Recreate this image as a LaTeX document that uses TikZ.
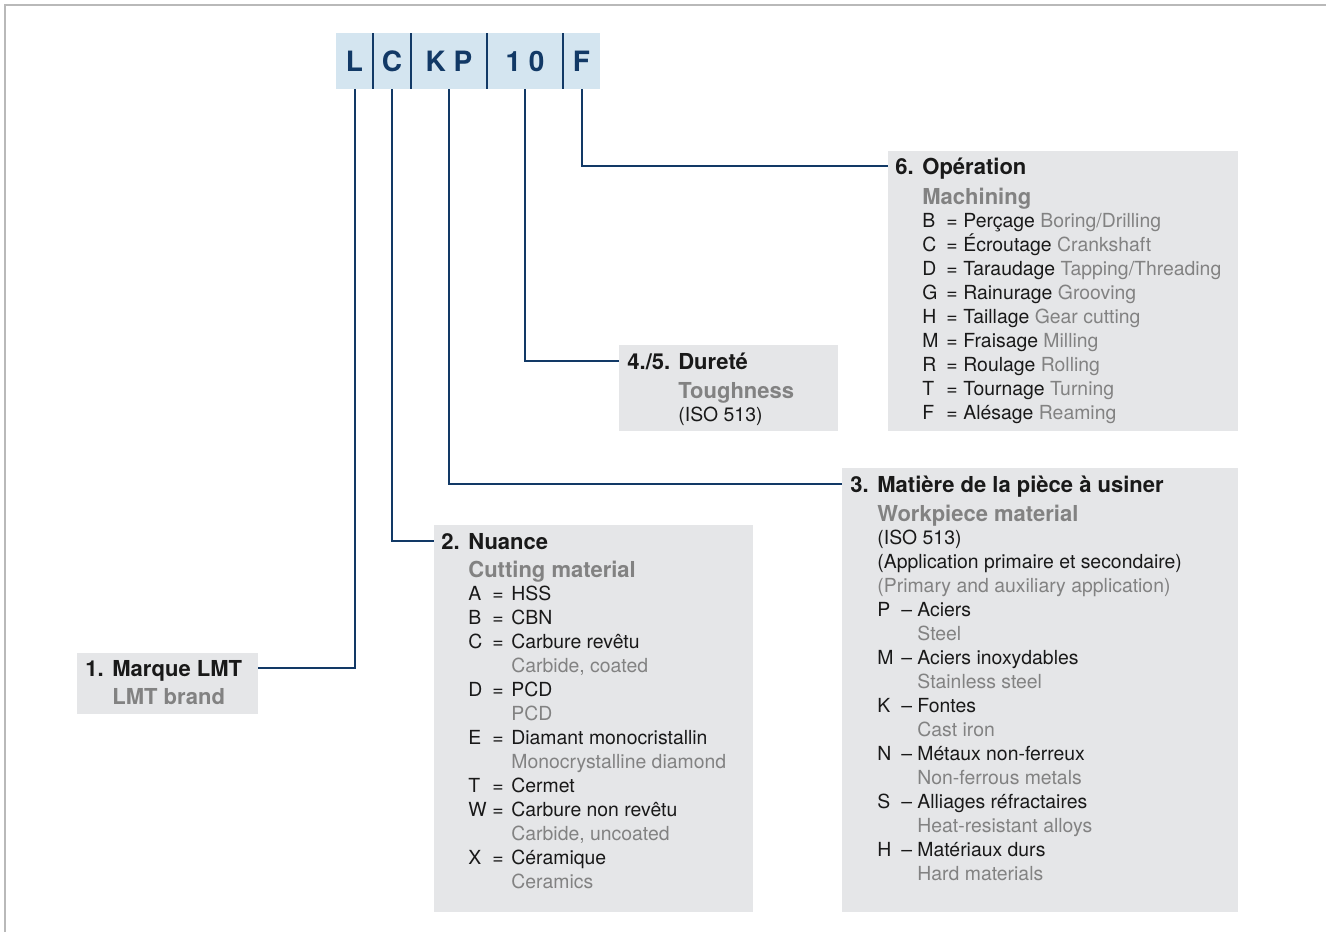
\documentclass[tikz,border=0pt]{standalone}
\usepackage{fontspec}
\setmainfont{TeX Gyre Heros}
\usepackage{tikz}
\usetikzlibrary{positioning}

\definecolor{lmtnavy}{RGB}{18,57,102}
\definecolor{codefill}{RGB}{212,229,240}
\definecolor{boxgrey}{RGB}{229,230,232}
\definecolor{engrey}{RGB}{130,130,130}
\definecolor{framegrey}{RGB}{185,185,185}
\definecolor{textblack}{RGB}{25,25,25}

\newcommand{\codefont}{\fontsize{14}{16}\selectfont\bfseries}
\newcommand{\headfont}{\fontsize{11}{13}\selectfont\bfseries}
\newcommand{\bodyfont}{\fontsize{9.7}{12}\selectfont}
\newcommand{\en}[1]{\textcolor{engrey}{#1}}
\newcommand{\entry}[4][8.5pt]{\makebox[12pt][l]{#2}\makebox[#1][l]{#3}#4}

\tikzset{
  cell/.style={fill=codefill, inner sep=0pt, outer sep=0pt, minimum height=28pt,
    text height=10pt, text depth=0pt, font=\codefont, text=lmtnavy},
  greybox/.style={fill=boxgrey, anchor=north west, inner sep=0pt, outer sep=0pt},
  headtxt/.style={anchor=west, inner sep=0pt, text height=8pt,
    text depth=0pt, font=\headfont, text=textblack},
  subtxt/.style={headtxt, text=engrey},
  rowtxt/.style={anchor=west, inner sep=0pt, text height=7pt,
    text depth=0pt, font=\bodyfont, text=textblack},
  link/.style={lmtnavy, line width=1pt},
  divider/.style={lmtnavy, line width=0.7pt},
  frame/.style={framegrey, line width=0.8pt}
}

\begin{document}
\begin{tikzpicture}[x=0.5pt, y=-0.5pt]

        \useasboundingbox (0,0) rectangle (1326,932);
        %Frame
        \draw [frame] (5,932) -- (5,5) -- (1326,5);

        %Code
        \node [cell, minimum width=18.5pt, anchor=north west] (cL) at (336,33) {L};
        \node [cell, minimum width=19pt, right=0pt of cL] (cC) {C};
        \node [cell, minimum width=38pt, right=0pt of cC] (cKP) {K P};
        \node [cell, minimum width=38pt, right=0pt of cKP] (c10) {1 0};
        \node [cell, minimum width=18.5pt, right=0pt of c10] (cF) {F};
        \draw [divider] (cL.north east) -- (cL.south east);
        \draw [divider] (cC.north east) -- (cC.south east);
        \draw [divider] (cKP.north east) -- (cKP.south east);
        \draw [divider] (c10.north east) -- (c10.south east);

        %6. Operation
        \node [greybox, minimum width=175pt, minimum height=140pt] (operation) at (888,151) {};
        \node [headtxt] (opHead) at (895,166) {\makebox[13.5pt][l]{6.}Opération};
        \node [subtxt] (opSub) at (922,196) {Machining};
        \node [rowtxt] (op1) at (922,220) {\entry{B}{=}{Perçage \en{Boring/Drilling}}};
        \node [rowtxt] (op2) at (922,244) {\entry{C}{=}{Écroutage \en{Crankshaft}}};
        \node [rowtxt] (op3) at (922,268) {\entry{D}{=}{Taraudage \en{Tapping/Threading}}};
        \node [rowtxt] (op4) at (922,292) {\entry{G}{=}{Rainurage \en{Grooving}}};
        \node [rowtxt] (op5) at (922,316) {\entry{H}{=}{Taillage \en{Gear cutting}}};
        \node [rowtxt] (op6) at (922,340) {\entry{M}{=}{Fraisage \en{Milling}}};
        \node [rowtxt] (op7) at (922,364) {\entry{R}{=}{Roulage \en{Rolling}}};
        \node [rowtxt] (op8) at (922,388) {\entry{T}{=}{Tournage \en{Turning}}};
        \node [rowtxt] (op9) at (922,412) {\entry{F}{=}{Alésage \en{Reaming}}};

        %4./5. Hardness
        \node [greybox, minimum width=109.5pt, minimum height=43pt] (hardness) at (619,345) {};
        \node [headtxt] (hdHead) at (627,361) {4./5. Dureté};
        \node [subtxt] (hdSub) at (678,390) {Toughness};
        \node [rowtxt] (hd1) at (678,414) {(ISO 513)};

        %3. Workpiece material
        \node [greybox, minimum width=198pt, minimum height=222pt] (material) at (842,468) {};
        \node [headtxt] (wmHead) at (850,484) {\makebox[13.5pt][l]{3.}Matière de la pièce à usiner};
        \node [subtxt] (wmSub) at (877,513) {Workpiece material};
        \node [rowtxt] (wm1) at (877,537) {(ISO 513)};
        \node [rowtxt] (wm2) at (877,561) {(Application primaire et secondaire)};
        \node [rowtxt] (wm3) at (877,585) {\en{(Primary and auxiliary application)}};
        \node [rowtxt] (wm4) at (877,609) {\entry[8pt]{P}{–}{Aciers}};
        \node [rowtxt] (wm5) at (917,633) {\en{Steel}};
        \node [rowtxt] (wm6) at (877,657) {\entry[8pt]{M}{–}{Aciers inoxydables}};
        \node [rowtxt] (wm7) at (917,681) {\en{Stainless steel}};
        \node [rowtxt] (wm8) at (877,705) {\entry[8pt]{K}{–}{Fontes}};
        \node [rowtxt] (wm9) at (917,729) {\en{Cast iron}};
        \node [rowtxt] (wm10) at (877,753) {\entry[8pt]{N}{–}{Métaux non-ferreux}};
        \node [rowtxt] (wm11) at (917,777) {\en{Non-ferrous metals}};
        \node [rowtxt] (wm12) at (877,801) {\entry[8pt]{S}{–}{Alliages réfractaires}};
        \node [rowtxt] (wm13) at (917,825) {\en{Heat-resistant alloys}};
        \node [rowtxt] (wm14) at (877,849) {\entry[8pt]{H}{–}{Matériaux durs}};
        \node [rowtxt] (wm15) at (917,873) {\en{Hard materials}};

        %2. Grade
        \node [greybox, minimum width=159.5pt, minimum height=193.5pt] (grade) at (434,525) {};
        \node [headtxt] (grHead) at (441,541) {\makebox[13.5pt][l]{2.}Nuance};
        \node [subtxt] (grSub) at (468,569) {Cutting material};
        \node [rowtxt] (gr1) at (468,593) {\entry[9.5pt]{A}{=}{HSS}};
        \node [rowtxt] (gr2) at (468,617) {\entry[9.5pt]{B}{=}{CBN}};
        \node [rowtxt] (gr3) at (468,641) {\entry[9.5pt]{C}{=}{Carbure revêtu}};
        \node [rowtxt] (gr4) at (511,665) {\en{Carbide, coated}};
        \node [rowtxt] (gr5) at (468,689) {\entry[9.5pt]{D}{=}{PCD}};
        \node [rowtxt] (gr6) at (511,713) {\en{PCD}};
        \node [rowtxt] (gr7) at (468,737) {\entry[9.5pt]{E}{=}{Diamant monocristallin}};
        \node [rowtxt] (gr8) at (511,761) {\en{Monocrystalline diamond}};
        \node [rowtxt] (gr9) at (468,785) {\entry[9.5pt]{T}{=}{Cermet}};
        \node [rowtxt] (gr10) at (468,809) {\entry[9.5pt]{W}{=}{Carbure non revêtu}};
        \node [rowtxt] (gr11) at (511,833) {\en{Carbide, uncoated}};
        \node [rowtxt] (gr12) at (468,857) {\entry[9.5pt]{X}{=}{Céramique}};
        \node [rowtxt] (gr13) at (511,881) {\en{Ceramics}};

        %1. Brand
        \node [greybox, minimum width=90.5pt, minimum height=30.5pt] (brand) at (77,653) {};
        \node [headtxt] (brHead) at (85,668) {\makebox[13.5pt][l]{1.}Marque LMT};
        \node [subtxt] (brSub) at (112,696) {LMT brand};

        %Links
        \draw [link] (cF.south) |- (operation.west |- opHead.west);
        \draw [link] (c10.south) |- (hardness.west |- hdHead.west);
        \draw [link] (cKP.south) |- (material.west |- wmHead.west);
        \draw [link] (cC.south) |- (grade.west |- grHead.west);
        \draw [link] (cL.south) |- (brand.east |- brHead.west);
      \end{tikzpicture}
\end{document}
